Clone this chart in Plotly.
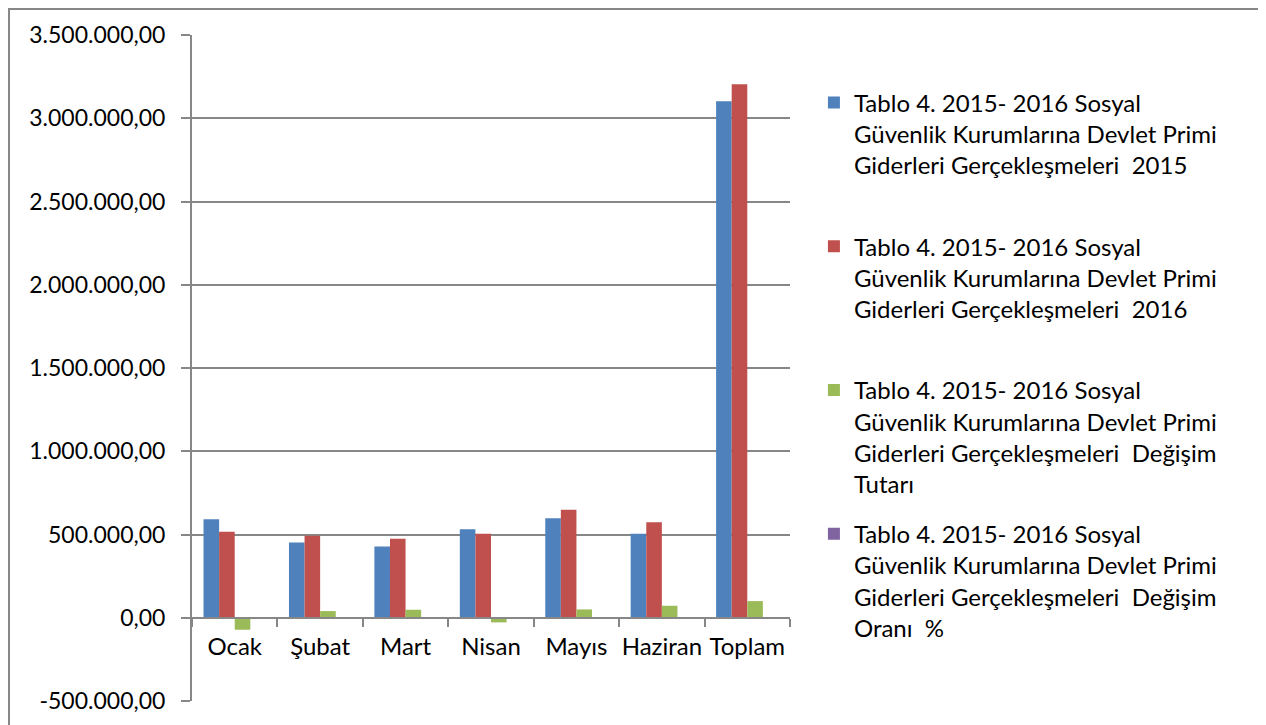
import plotly.graph_objects as go

aylar = ["Ocak", "Şubat", "Mart", "Nisan", "Mayıs", "Haziran", "Toplam"]

gider_2015 = [592000, 452000, 428000, 532000, 598000, 504000, 3102000]
gider_2016 = [516000, 492000, 474000, 504000, 648000, 574000, 3204000]
degisim_tutari = [-72000, 40000, 48000, -28000, 50000, 72000, 100000]
degisim_orani = [-12.2, 8.8, 11.2, -5.3, 8.4, 14.3, 3.2]

seri_adlari = [
    "Tablo 4. 2015- 2016 Sosyal<br>Güvenlik Kurumlarına Devlet Primi<br>Giderleri Gerçekleşmeleri  2015<br>\u00a0",
    "Tablo 4. 2015- 2016 Sosyal<br>Güvenlik Kurumlarına Devlet Primi<br>Giderleri Gerçekleşmeleri  2016<br>\u00a0",
    "Tablo 4. 2015- 2016 Sosyal<br>Güvenlik Kurumlarına Devlet Primi<br>Giderleri Gerçekleşmeleri  Değişim<br>Tutarı",
    "Tablo 4. 2015- 2016 Sosyal<br>Güvenlik Kurumlarına Devlet Primi<br>Giderleri Gerçekleşmeleri  Değişim<br>Oranı  %",
]
renkler = ["#4F81BD", "#C0504D", "#9BBB59", "#8064A2"]

y_tick_degerleri = [-500000, 0, 500000, 1000000, 1500000, 2000000, 2500000, 3000000, 3500000]
y_tick_etiketleri = ["-500.000,00", "0,00", "500.000,00", "1.000.000,00", "1.500.000,00",
                     "2.000.000,00", "2.500.000,00", "3.000.000,00", "3.500.000,00"]

FONT = "Lato"
GRI = "#878787"

fig = go.Figure()
for i, seri in enumerate([gider_2015, gider_2016, degisim_tutari, degisim_orani]):
    fig.add_trace(go.Bar(
        x=aylar, y=seri, name=seri_adlari[i],
        marker=dict(color=renkler[i], line=dict(width=0)),
        legendgroup=str(i),
    ))

# dis cerceve
fig.add_shape(type="rect", xref="paper", yref="paper",
              x0=-0.306, x1=1.786, y0=-0.2, y1=1.039,
              line=dict(color=GRI, width=2), layer="above")

fig.update_layout(
    width=1258, height=717,
    margin=dict(l=184, r=476, t=27, b=24),
    paper_bgcolor="white", plot_bgcolor="white",
    barmode="group", bargap=0.27, bargroupgap=0,
    font=dict(family=FONT, size=23, color="black"),
    showlegend=True,
    legend=dict(x=1.040, y=0.932, xanchor="left", yanchor="top",
                valign="top", tracegroupgap=16,
                font=dict(family=FONT, size=24, color="black")),
    xaxis=dict(anchor="free", position=0.125, showline=True, linecolor=GRI, linewidth=2,
               ticks="outside", ticklen=8, tickcolor=GRI, tickwidth=2,
               tickson="boundaries", showgrid=False, ticklabelstandoff=7,
               tickangle=0, tickfont=dict(size=24)),
    yaxis=dict(range=[-500000, 3500000], tickvals=y_tick_degerleri, ticktext=y_tick_etiketleri,
               showline=True, linecolor=GRI, linewidth=2,
               ticks="outside", ticklen=9, tickcolor=GRI, tickwidth=2,
               showgrid=True, gridcolor=GRI, gridwidth=2, zeroline=False,
               ticklabelstandoff=11),
)

fig.write_html("out.html")
